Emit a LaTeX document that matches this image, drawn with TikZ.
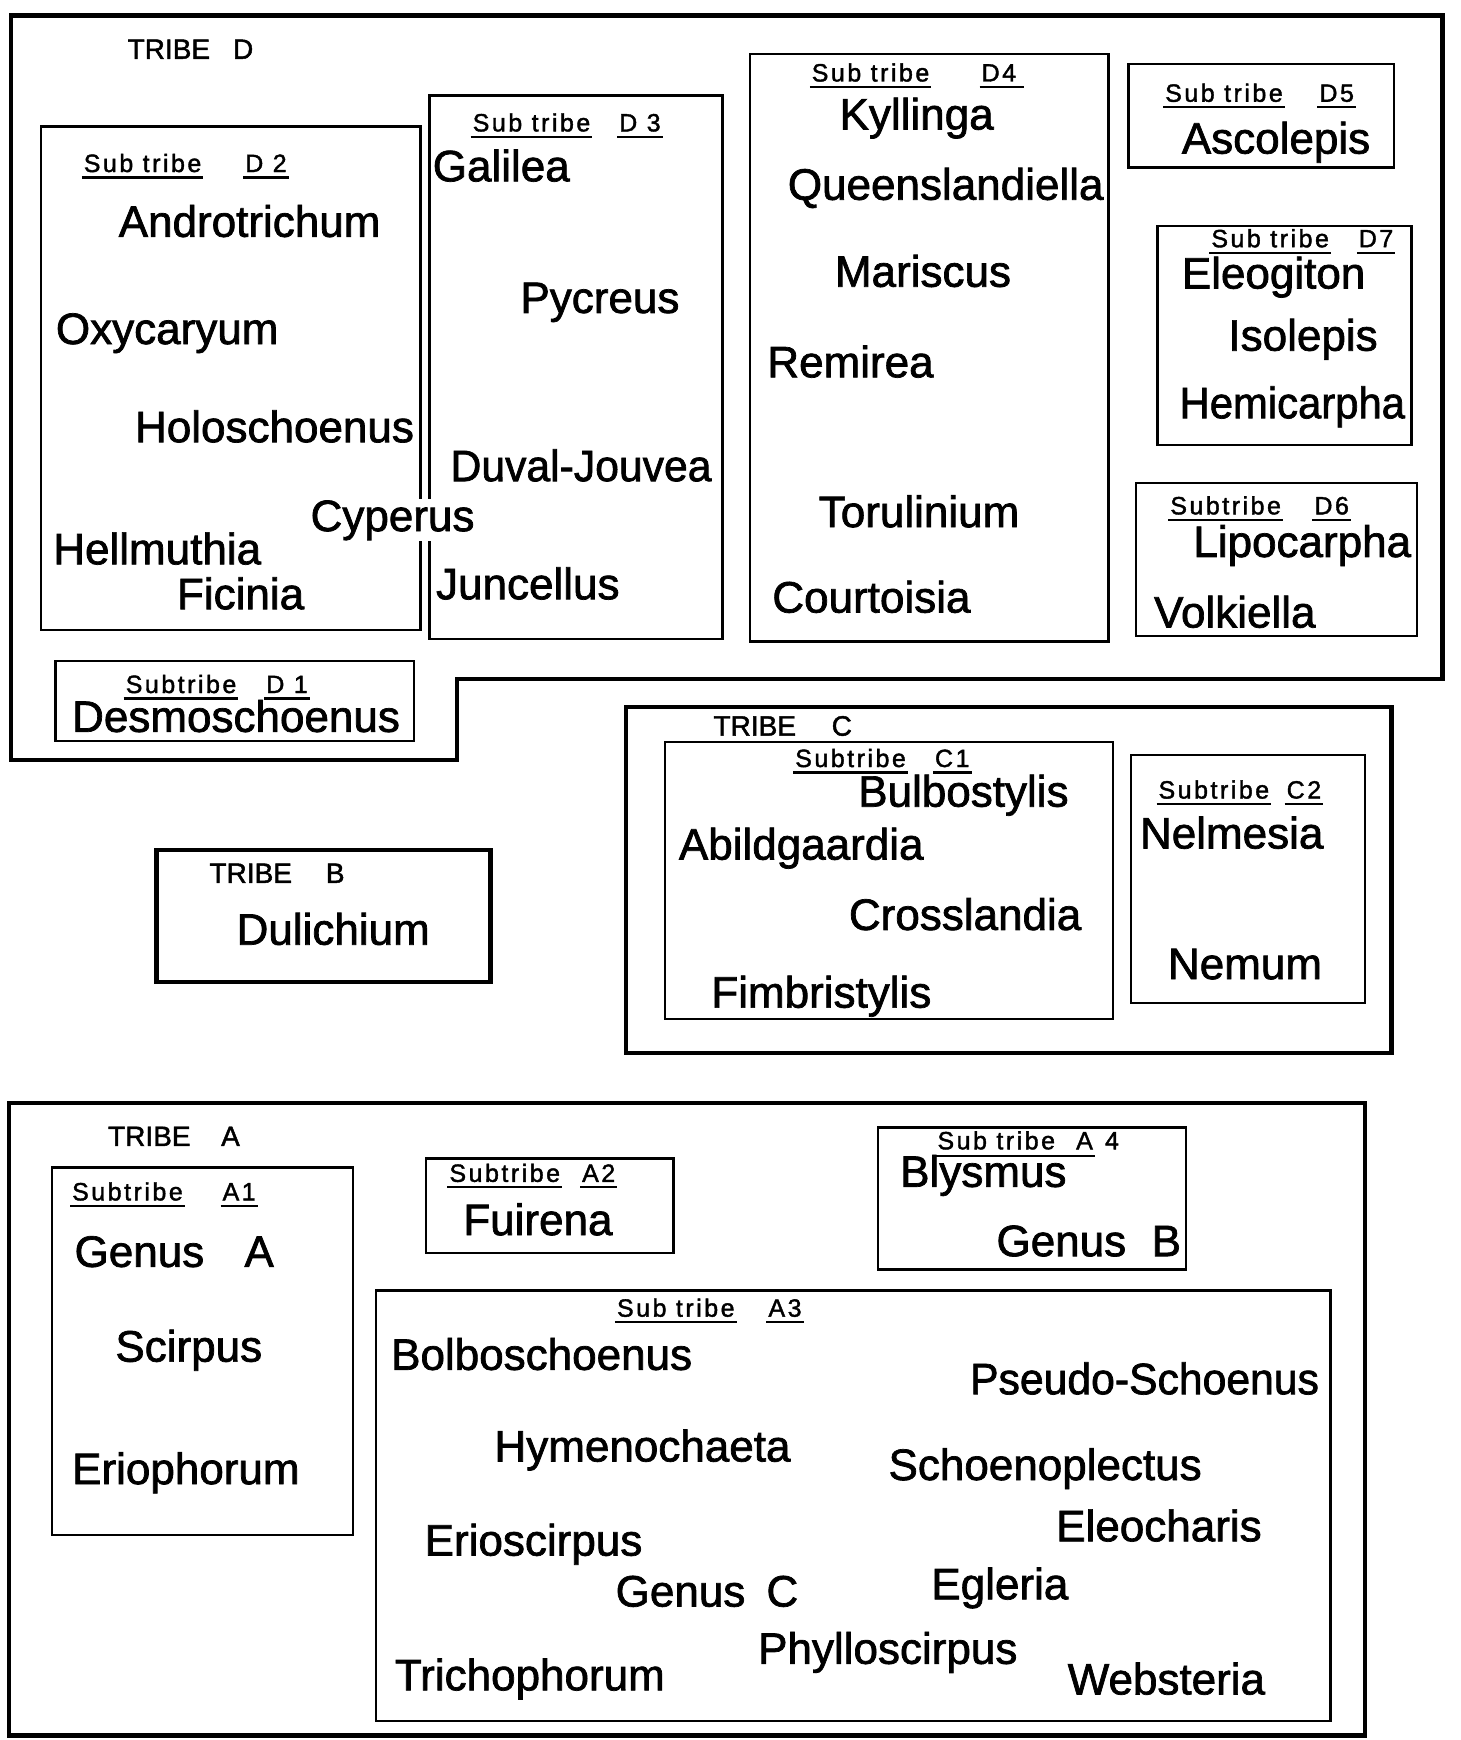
\documentclass[tikz,border=0pt]{standalone}
\usepackage{fontspec}
\setmainfont[FakeBold=1.6]{Liberation Sans}
\newfontfamily\subfnt[LetterSpace=10,FakeBold=1.6]{Liberation Sans}
\newcommand{\uln}[1]{\setbox0\hbox{#1}\rlap{\kern-2pt\rule[-6.5pt]{\dimexpr\wd0+4pt\relax}{2.2pt}}\box0}
\tikzset{
  gen/.style={anchor=base west, inner sep=0pt, outer sep=0pt, font=\fontsize{44}{50}\selectfont, text=black},
  trb/.style={anchor=base west, inner sep=0pt, outer sep=0pt, font=\fontsize{28}{32}\selectfont},
  sub/.style={anchor=base west, inner sep=0pt, outer sep=0pt, font=\subfnt\fontsize{25}{30}\selectfont},
  thinbox/.style={draw, line width=2.2pt},
  thickbox/.style={draw, line width=4.5pt, line join=miter},
  ulin/.style={line width=2.2pt},
}
\begin{document}
\begin{tikzpicture}[x=1.1094pt, y=-1.1094pt]
\useasboundingbox (0,0) rectangle (1316,1568);

% ---------- boxes ----------
% Tribe D
\draw[thickbox] (10,14) -- (1300,14) -- (1300,612) -- (412,612) -- (412,685) -- (10,685) -- cycle;
\draw[thinbox] (37,114) rectangle (379,568);   % D2
\draw[thinbox] (387,86) rectangle (651,576);   % D3
\draw[thinbox] (676,49) rectangle (999,578);   % D4
\draw[thinbox] (1017,58) rectangle (1256,151); % D5
\draw[thinbox] (1043,204) rectangle (1272,401);% D7
\draw[thinbox] (1024,435) rectangle (1277,573);% D6
\draw[thinbox] (50,596) rectangle (373,668);   % D1
% Tribe B
\draw[thickbox] (141,766) rectangle (442,885);
% Tribe C
\draw[thickbox] (564,637) rectangle (1254,949);
\draw[thinbox] (599,669) rectangle (1003,918);  % C1
\draw[thinbox] (1019,680) rectangle (1230,904); % C2
% Tribe A
\draw[thickbox] (8,994) rectangle (1230,1564);
\draw[thinbox] (47,1052) rectangle (318,1383);  % A1
\draw[thinbox] (384,1044) rectangle (607,1129); % A2
\draw[thinbox] (339,1163) rectangle (1199,1551);% A3
\draw[thinbox] (791,1016) rectangle (1069,1144);% A4

% ---------- Tribe D ----------
\node[trb] (tD) at (115,53) {TRIBE};
\node[trb] (tDl) at (210,53) {D};
% D2
\node[sub] (d2s) at (75.5,155) {\uln{Sub tribe}};
\node[sub] (d2i) at (221,155) {\uln{D 2}};
\node[gen] (andro) at (107,213.4) {Androtrichum};
\node[gen] (oxy) at (50.4,310) {Oxycaryum};
\node[gen] (holo) at (121.7,398.5) {Holoschoenus};
\node[gen] (hell) at (48,508.5) {Hellmuthia};
\node[gen] (fici) at (159.5,549) {Ficinia};
\node[gen, fill=white, inner sep=1pt] (cype) at (279,478.6) {Cyperus};
% D3
\node[sub] (d3s) at (426,118.4) {\uln{Sub tribe}};
\node[sub] (d3i) at (558,118.4) {\uln{D 3}};
\node[gen] (gali) at (390,163.4) {Galilea};
\node[gen] (pycr) at (469,282) {Pycreus};
\node[gen] (duva) at (406,433.6) {\scalebox{0.97}[1]{Duval-Jouvea}};
\node[gen] (junc) at (393,540) {Juncellus};
% D4
\node[sub] (d4s) at (731.5,73.4) {\uln{Sub tribe}};
\node[sub] (d4i) at (884.6,73.4) {\uln{D4\kern6pt}};
\node[gen] (kyll) at (756.6,116.7) {Kyllinga};
\node[gen] (quee) at (710,180) {Queenslandiella};
\node[gen] (mari) at (752.4,258.4) {Mariscus};
\node[gen] (remi) at (691.5,340) {Remirea};
\node[gen] (toru) at (737.8,475) {Torulinium};
\node[gen] (cour) at (696,552) {Courtoisia};
% D5
\node[sub] (d5s) at (1050,91.7) {\uln{Sub tribe}};
\node[sub] (d5i) at (1189,91.7) {\uln{D5}};
\node[gen] (asco) at (1065,138.4) {Ascolepis};
% D7
\node[sub] (d7s) at (1091.6,222.8) {\uln{Sub tribe}};
\node[sub] (d7i) at (1224.5,222.8) {\uln{D7}};
\node[gen] (eleo) at (1065,260) {Eleogiton};
\node[gen] (isol) at (1107,316) {Isolepis};
\node[gen] (hemi) at (1063,376.9) {\scalebox{0.95}[1]{Hemicarpha}};
% D6
\node[sub] (d6s) at (1054.6,463.5) {\uln{Subtribe}};
\node[sub] (d6i) at (1184.5,463.5) {\uln{D6}};
\node[gen] (lipo) at (1075.4,501.9) {Lipocarpha};
\node[gen] (volk) at (1040,565.5) {Volkiella};
% D1
\node[sub] (d1s) at (113.3,624.5) {\uln{Subtribe}};
\node[sub] (d1i) at (240,624.5) {\uln{D 1}};
\node[gen] (desm) at (65,659.5) {Desmoschoenus};

% ---------- Tribe B ----------
\node[trb] (tB) at (188.8,795.6) {TRIBE};
\node[trb] (tBl) at (293.7,795.6) {B};
\node[gen] (duli) at (213.2,851.3) {Dulichium};

% ---------- Tribe C ----------
\node[trb] (tC) at (643,662.9) {TRIBE};
\node[trb] (tCl) at (749.5,662.9) {C};
\node[sub] (c1s) at (716.6,691.2) {\uln{Subtribe}};
\node[sub] (c1i) at (842.6,691.2) {\uln{C1}};
\node[gen] (bulb) at (773.4,726.9) {Bulbostylis};
\node[gen] (abil) at (611.8,774.6) {Abildgaardia};
\node[gen] (cros) at (765,838) {Crosslandia};
\node[gen] (fimb) at (641,908) {Fimbristylis};
\node[sub] (c2s) at (1044,719.6) {\uln{Subtribe}};
\node[sub] (c2i) at (1159.5,719.6) {\uln{C2}};
\node[gen] (nelm) at (1027.3,764.6) {Nelmesia};
\node[gen] (nemu) at (1052.5,882.3) {Nemum};

% ---------- Tribe A ----------
\node[trb] (tA) at (97.4,1032.7) {TRIBE};
\node[trb] (tAl) at (199.3,1032.7) {A};
% A1
\node[sub] (a1s) at (65,1081.7) {\uln{Subtribe}};
\node[sub] (a1i) at (200.6,1081.7) {\uln{A1}};
\node[gen] (genA) at (67.2,1141.6) {Genus};
\node[gen] (genAl) at (220.3,1141.6) {A};
\node[gen] (scir) at (104,1227) {Scirpus};
\node[gen] (erio) at (65,1337.4) {Eriophorum};
% A2
\node[sub] (a2s) at (405,1065) {\uln{Subtribe}};
\node[sub] (a2i) at (524.6,1065) {\uln{A2}};
\node[gen] (fuir) at (417.5,1113) {Fuirena};
% A3
\node[sub] (a3s) at (556,1186.5) {\uln{Sub tribe}};
\node[sub] (a3i) at (692.5,1186.5) {\uln{A3}};
\node[gen] (bolb) at (352.5,1234.4) {Bolboschoenus};
\node[gen] (hyme) at (445.6,1317) {Hymenochaeta};
\node[gen] (eris) at (382.7,1401.8) {Erioscirpus};
\node[gen] (genC) at (554.8,1447.7) {Genus};
\node[gen] (genCl) at (690.7,1447.7) {C};
\node[gen] (tric) at (355.9,1523.2) {Trichophorum};
\node[gen] (pseu) at (874.2,1256.4) {\scalebox{0.97}[1]{Pseudo-Schoenus}};
\node[gen] (scho) at (800.7,1333.7) {Schoenoplectus};
\node[gen] (eleoc) at (951.8,1388.9) {Eleocharis};
\node[gen] (egle) at (839.3,1441.2) {Egleria};
\node[gen] (phyl) at (683.2,1499.3) {Phylloscirpus};
\node[gen] (webs) at (962.2,1526.9) {Websteria};
% A4
\node[sub] (a4s) at (844.8,1035.7) {Sub tribe};
\node[sub] (a4a) at (969.8,1035.7) {A};
\node[sub] (a4n) at (995.8,1035.7) {4};
\draw[ulin] ([shift={(-2pt,-6.5pt)}]a4s.base west) -- ([shift={(2pt,-6.5pt)}]a4a.base east);
\node[gen] (blys) at (811.2,1069.5) {Blysmus};
\node[gen] (genB) at (898,1132) {Genus};
\node[gen] (genBl) at (1037.8,1132) {B};
\end{tikzpicture}
\end{document}
